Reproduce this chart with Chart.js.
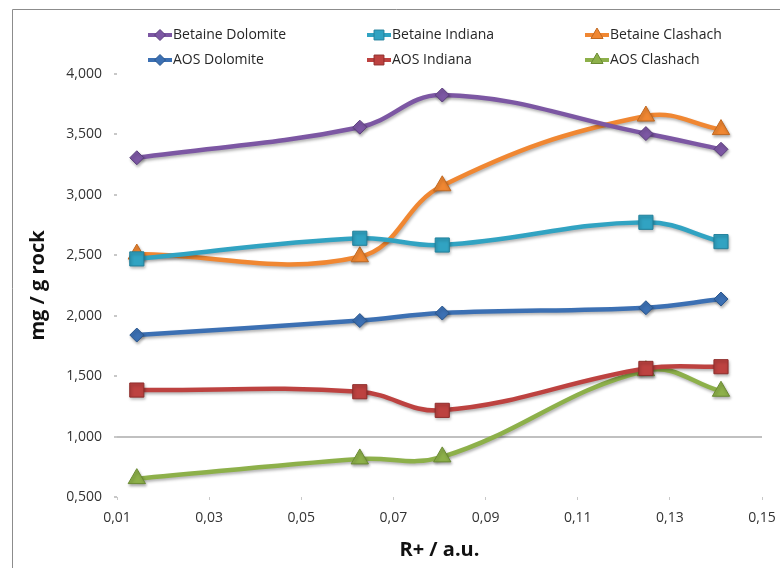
<!DOCTYPE html>
<html>
<head>
<meta charset="utf-8">
<script src="https://cdn.jsdelivr.net/npm/chart.js@4.4.1/dist/chart.umd.min.js"></script>
<style>
html,body{margin:0;padding:0;background:#fff;}
#wrap{width:780px;height:568px;position:relative;}
</style>
</head>
<body>
<div id="wrap"><canvas id="c"></canvas></div>
<script>
// R+ (a.u.) at which each series was measured
const rPlus = [0.0143, 0.0627, 0.0806, 0.1248, 0.1411];
const seriesNames = ["Betaine Dolomite", "Betaine Indiana", "Betaine Clashach", "AOS Dolomite", "AOS Indiana", "AOS Clashach"];
const betaineDolomite = [3.307, 3.560, 3.826, 3.507, 3.377];
const betaineIndiana  = [2.470, 2.641, 2.585, 2.773, 2.613];
const betaineClashach = [2.510, 2.488, 3.075, 3.652, 3.540];
const aosDolomite     = [1.840, 1.960, 2.022, 2.066, 2.138];
const aosIndiana      = [1.385, 1.371, 1.217, 1.564, 1.578];
const aosClashach     = [0.652, 0.815, 0.832, 1.545, 1.375];
const xTicks = [0.01, 0.03, 0.05, 0.07, 0.09, 0.11, 0.13, 0.15];
const yTicks = [0.5, 1.0, 1.5, 2.0, 2.5, 3.0, 3.5, 4.0];

const allValues = [betaineDolomite, betaineIndiana, betaineClashach, aosDolomite, aosIndiana, aosClashach];
const lineColors = ["#7c57a3", "#31a3c2", "#f08732", "#3c70b3", "#bd4240", "#8db04a"];
const edgeColors = ["#5b3f7d", "#23819b", "#c06820", "#2b568c", "#8f2d2b", "#6a8a33"];
const styles = ["rectRot", "rect", "triangle", "rectRot", "rect", "triangle"];
const radii = { rectRot: 7, rect: 10, triangle: 10 };

const datasets = allValues.map((vals, i) => ({
  label: seriesNames[i],
  data: vals.map((v, j) => ({ x: rPlus[j], y: v })),
  borderColor: lineColors[i],
  backgroundColor: lineColors[i],
  pointBackgroundColor: lineColors[i],
  pointBorderColor: edgeColors[i],
  pointBorderWidth: 1,
  pointStyle: styles[i],
  pointRadius: radii[styles[i]],
  borderWidth: 4.5,
  tension: 0.4,
  fill: false
}));

const fontFam = "'Open Sans', 'DejaVu Sans', sans-serif";

const frame = {
  id: 'frame',
  beforeDraw(chart) {
    const ctx = chart.ctx;
    ctx.save();
    ctx.strokeStyle = '#8c8c8c';
    ctx.lineWidth = 1;
    ctx.beginPath();
    ctx.moveTo(12.5, 568);
    ctx.lineTo(12.5, 9.5);
    ctx.lineTo(780, 9.5);
    ctx.stroke();
    ctx.restore();
  }
};

const shadow = {
  id: 'shadow',
  beforeDatasetsDraw(chart) {
    const ctx = chart.ctx;
    ctx.save();
    ctx.shadowColor = 'rgba(0,0,0,0.30)';
    ctx.shadowOffsetX = 1;
    ctx.shadowOffsetY = 2;
    ctx.shadowBlur = 3;
  },
  afterDatasetsDraw(chart) {
    chart.ctx.restore();
  }
};

const legendGrid = {
  id: 'legendGrid',
  afterDraw(chart) {
    const ctx = chart.ctx;
    const colX = [148, 367, 585];
    const rowY = [35, 60];
    ctx.save();
    chart.data.datasets.forEach((ds, i) => {
      const x = colX[i % 3];
      const y = rowY[Math.floor(i / 3)];
      ctx.strokeStyle = ds.borderColor;
      ctx.lineWidth = 4;
      ctx.beginPath();
      ctx.moveTo(x, y);
      ctx.lineTo(x + 24, y);
      ctx.stroke();
      ctx.fillStyle = ds.pointBackgroundColor;
      ctx.strokeStyle = ds.pointBorderColor;
      ctx.lineWidth = 1;
      Chart.helpers.drawPoint(ctx, {
        pointStyle: ds.pointStyle,
        radius: ds.pointStyle === 'rectRot' ? 5.5 : 7,
        rotation: 0,
        borderWidth: 1
      }, x + 12, y);
      ctx.fillStyle = '#262626';
      ctx.font = "14px " + fontFam;
      ctx.textBaseline = 'middle';
      ctx.textAlign = 'left';
      ctx.fillText(ds.label, x + 25, y);
    });
    ctx.restore();
  }
};

new Chart(document.getElementById('c'), {
  type: 'line',
  data: { datasets },
  plugins: [frame, shadow, legendGrid],
  options: {
    responsive: true,
    maintainAspectRatio: false,
    animation: false,
    layout: { padding: { left: 12, right: 18, top: 74, bottom: 0 } },
    plugins: { legend: { display: false }, tooltip: { enabled: false } },
    scales: {
      x: {
        type: 'linear',
        min: xTicks[0],
        max: xTicks[xTicks.length - 1],
        afterBuildTicks(scale) { scale.ticks = xTicks.map(v => ({ value: v })); },
        afterFit(scale) { scale.height = 71; scale.paddingLeft = 0; scale.paddingRight = 0; },
        border: { display: false },
        grid: { drawOnChartArea: false, drawTicks: true, tickLength: 3, tickColor: '#c8c8c8' },
        ticks: {
          padding: 10,
          color: '#333333',
          font: { family: fontFam, size: 14 },
          maxRotation: 0,
          callback: v => Number(v).toFixed(2).replace('.', ',')
        },
        title: {
          display: true,
          text: 'R+ / a.u.',
          color: '#111111',
          font: { family: fontFam, size: 20, weight: 'bold' },
          padding: { top: 0, bottom: 6 }
        }
      },
      y: {
        type: 'linear',
        min: yTicks[0],
        max: yTicks[yTicks.length - 1],
        afterBuildTicks(scale) { scale.ticks = yTicks.map(v => ({ value: v })); },
        afterFit(scale) { scale.width = 105; scale.paddingTop = 0; scale.paddingBottom = 0; },
        border: { display: false },
        grid: {
          drawTicks: true,
          tickLength: 3,
          tickColor: '#c8c8c8',
          lineWidth: 2,
          color: ctx => (ctx.tick && Math.abs(ctx.tick.value - 1) < 1e-9) ? '#c0c0c0' : 'rgba(0,0,0,0)'
        },
        ticks: {
          padding: 12,
          color: '#333333',
          font: { family: fontFam, size: 14 },
          callback: v => Number(v).toFixed(3).replace('.', ',')
        },
        title: {
          display: true,
          text: 'mg / g rock',
          color: '#111111',
          font: { family: fontFam, size: 20, weight: 'bold' },
          padding: { top: 14, bottom: 0 }
        }
      }
    }
  }
});
</script>
</body>
</html>
